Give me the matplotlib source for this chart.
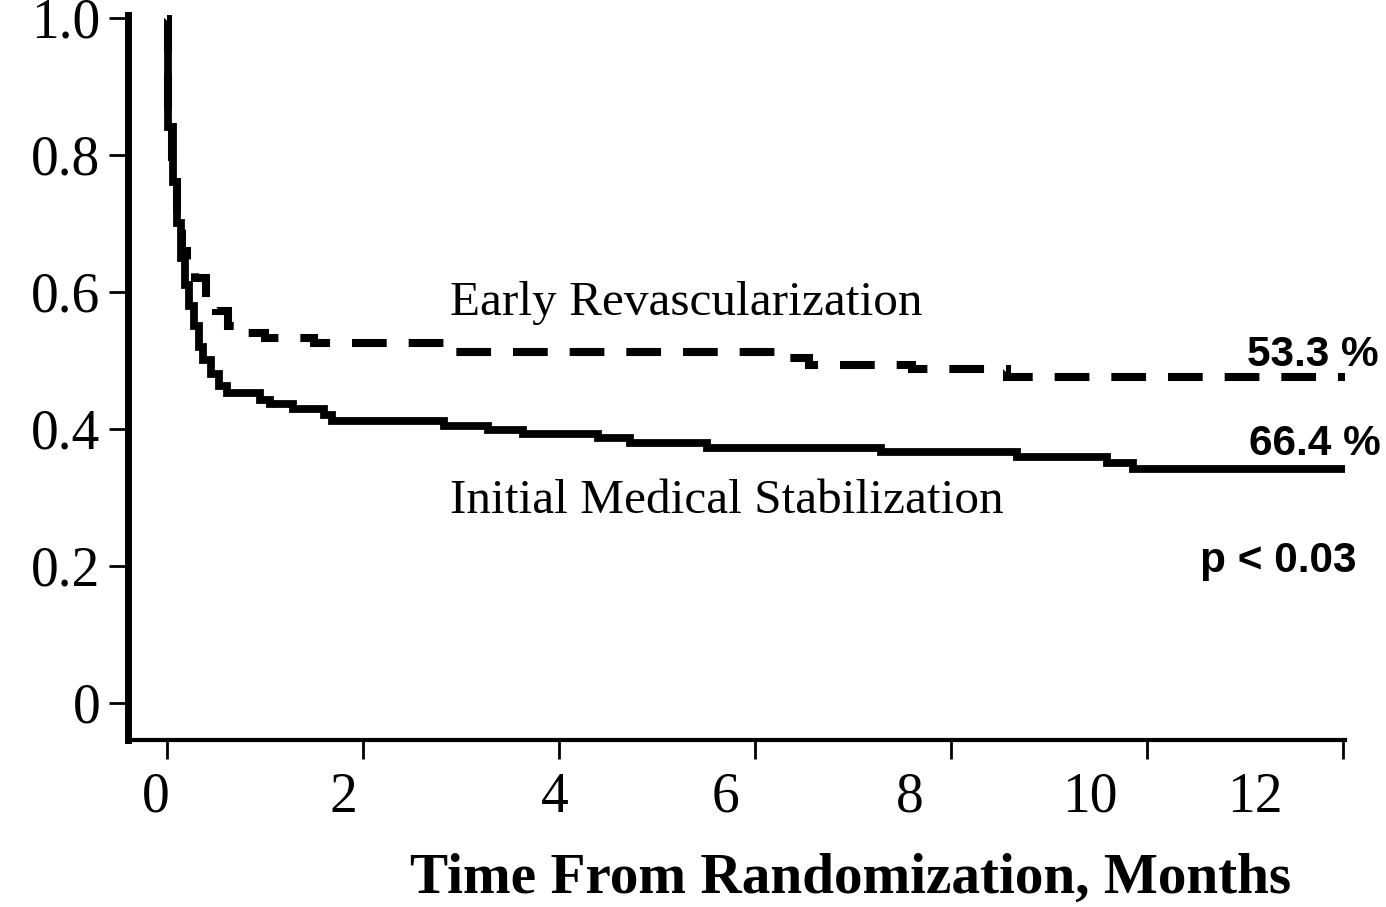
import matplotlib
matplotlib.use("Agg")
import matplotlib.pyplot as plt

plt.rcParams['lines.scale_dashes'] = False

# ---- data ----
medical_t = [0, 0.01, 0.06, 0.10, 0.14, 0.18, 0.22, 0.27, 0.32, 0.37, 0.45, 0.53,
             0.61, 0.95, 1.05, 1.28, 1.60, 1.68, 2.82, 3.27, 3.63, 4.40, 4.72, 5.51, 7.28,
             8.67, 9.59, 9.86, 12.04]
medical_s = [1.0, 0.84, 0.76, 0.70, 0.65, 0.61, 0.58, 0.55, 0.52, 0.50, 0.48, 0.463,
             0.452, 0.442, 0.436, 0.429, 0.420, 0.411, 0.404, 0.399, 0.393, 0.387, 0.380, 0.372,
             0.366, 0.359, 0.350, 0.342, 0.342]

revasc_t = [0, 0.01, 0.05, 0.10, 0.15, 0.20, 0.28, 0.40, 0.50, 0.62, 0.71, 1.00, 1.50, 2.87,
            6.30, 6.55, 7.60, 8.57, 12.04]
revasc_s = [1.0, 0.84, 0.76, 0.70, 0.66, 0.64, 0.62, 0.585, 0.572, 0.55, 0.540, 0.532, 0.526,
            0.512, 0.504, 0.493, 0.488, 0.476, 0.476]

x_ticks = [0, 2, 4, 6, 8, 10, 12]
x_tick_labels = ["0", "2", "4", "6", "8", "10", "12"]
y_ticks = [0, 0.2, 0.4, 0.6, 0.8, 1.0]
y_tick_labels = ["0", "0.2", "0.4", "0.6", "0.8", "1.0"]

label_revasc = "Early Revascularization"
label_medical = "Initial Medical Stabilization"
pct_revasc = "53.3 %"
pct_medical = "66.4 %"
p_value = "p < 0.03"
x_title = "Time From Randomization, Months"

# label positions (layout, as drawn in the reference)
x_label_pos = [-0.12, 1.80, 3.96, 5.70, 7.58, 9.42, 11.10]

serif = ["Liberation Serif", "DejaVu Serif"]
sans = ["Liberation Sans", "DejaVu Sans"]

W, H = 1386, 907
fig = plt.figure(figsize=(W / 100, H / 100), dpi=100)
fig.patch.set_facecolor("white")
ax = fig.add_axes([128 / W, (H - 740) / H, (1345 - 128) / W, (740 - 15) / H])

ax.step(medical_t, medical_s, where="post", color="black", lw=5.6,
        solid_joinstyle="miter", solid_capstyle="butt")
ax.step(revasc_t, revasc_s, where="post", color="black", lw=5.8,
        linestyle=(0, (25.0, 15.8)), dash_capstyle="butt", dash_joinstyle="miter")

ax.set_xlim(-0.40, 12.02)
ax.set_ylim(-0.054, 1.004)

for side in ("top", "right"):
    ax.spines[side].set_visible(False)
ax.spines["left"].set_linewidth(5.0)
ax.spines["bottom"].set_linewidth(3.0)

ax.set_yticks(y_ticks)
ax.set_yticklabels(y_tick_labels, fontfamily=serif, fontsize=40)
ax.tick_params(axis="y", length=14, width=2.0, pad=6)

ax.set_xticks(x_ticks)
ax.set_xticklabels([])
ax.tick_params(axis="x", length=14, width=2.0)

xtr = ax.get_xaxis_transform()
for xp, lab in zip(x_label_pos, x_tick_labels):
    ax.text(xp, -0.099, lab, transform=xtr, ha="center", va="baseline",
            fontfamily=serif, fontsize=40, clip_on=False)

ax.text(2.89, 0.566, label_revasc, ha="left", va="baseline", fontfamily=serif, fontsize=35.5)
ax.text(2.89, 0.277, label_medical, ha="left", va="baseline", fontfamily=serif, fontsize=35.5)

ax.text(12.36, 0.492, pct_revasc, ha="right", va="baseline", fontfamily=sans,
        fontweight="bold", fontsize=30.5, clip_on=False)
ax.text(12.38, 0.362, pct_medical, ha="right", va="baseline", fontfamily=sans,
        fontweight="bold", fontsize=30.5, clip_on=False)
ax.text(10.54, 0.191, p_value, ha="left", va="baseline", fontfamily=sans,
        fontweight="bold", fontsize=30.5, clip_on=False)

fig.text(851 / W, (H - 893) / H, x_title, ha="center", va="baseline",
         fontfamily=serif, fontweight="bold", fontsize=41.2)

fig.savefig("out.png", dpi=100, facecolor="white")
